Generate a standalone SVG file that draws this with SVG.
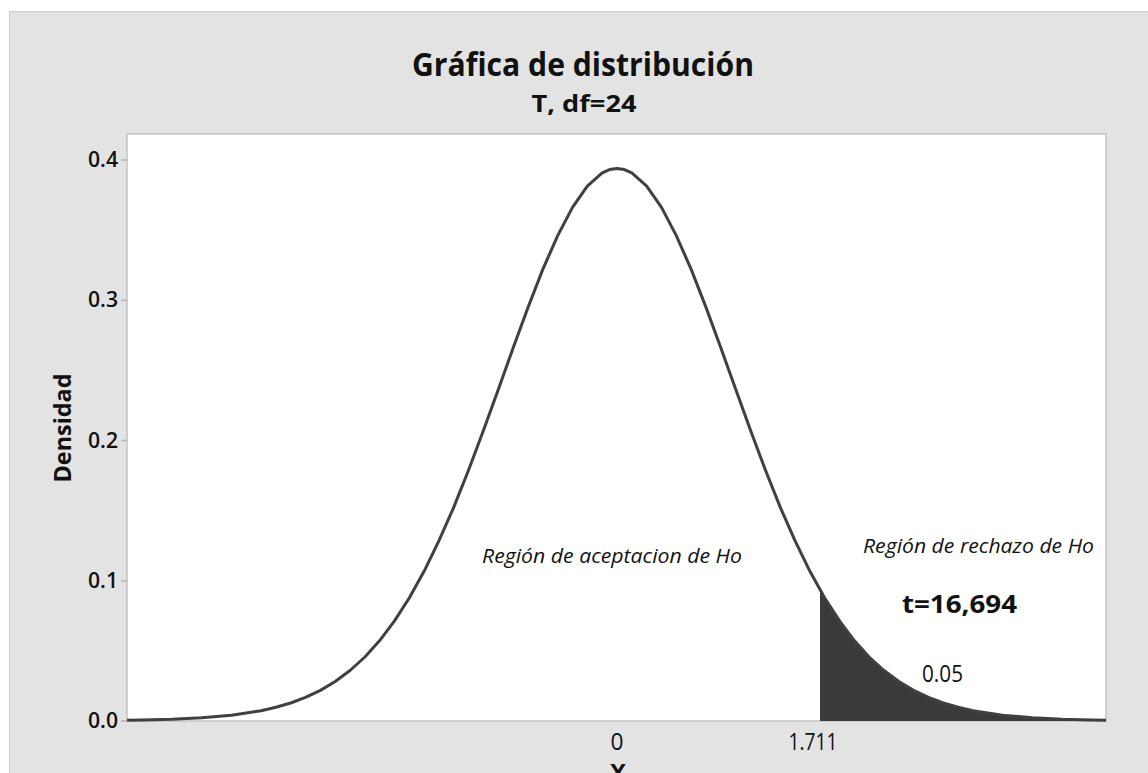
<svg xmlns="http://www.w3.org/2000/svg" width="1148" height="773" viewBox="0 0 1148 773">
<style>
.t{font-family:"Open Sans","Noto Sans","DejaVu Sans",sans-serif;fill:#111}
.tick{stroke:#b5b5b5;stroke-width:1.5}
.yl{font-size:21px;font-weight:600;text-anchor:end}
.xl{font-size:23px;text-anchor:middle}
.it{font-size:20px;font-style:italic}
.curve{fill:none;stroke:#404040;stroke-width:3;stroke-linejoin:round}
</style>
<rect x="0" y="0" width="1148" height="773" fill="#ffffff"/>
<rect id="panel" x="9.5" y="11.5" width="1145" height="770" fill="#e3e3e3" stroke="#cdcdcd" stroke-width="1"/>
<text class="t" x="583" y="76" font-size="32" font-weight="700" text-anchor="middle" textLength="342" lengthAdjust="spacingAndGlyphs">Gráfica de distribución</text>
<text class="t" x="584" y="112" font-size="24" font-weight="700" text-anchor="middle" textLength="105" lengthAdjust="spacingAndGlyphs">T, df=24</text>
<rect id="plot" x="127" y="134" width="979" height="587" fill="#ffffff" stroke="#c2c2c2" stroke-width="1.5"/>
<g id="yaxis">
<line class="tick" x1="121" y1="160" x2="127" y2="160"/>
<line class="tick" x1="121" y1="300.3" x2="127" y2="300.3"/>
<line class="tick" x1="121" y1="440.5" x2="127" y2="440.5"/>
<line class="tick" x1="121" y1="580.8" x2="127" y2="580.8"/>
<line class="tick" x1="121" y1="721" x2="127" y2="721"/>
<text class="t yl" x="118" y="167" textLength="30" lengthAdjust="spacingAndGlyphs">0.4</text>
<text class="t yl" x="118" y="307" textLength="30" lengthAdjust="spacingAndGlyphs">0.3</text>
<text class="t yl" x="118" y="447.5" textLength="30" lengthAdjust="spacingAndGlyphs">0.2</text>
<text class="t yl" x="118" y="588" textLength="30" lengthAdjust="spacingAndGlyphs">0.1</text>
<text class="t yl" x="118" y="728" textLength="30" lengthAdjust="spacingAndGlyphs">0.0</text>
<text class="t" transform="translate(71,428) rotate(-90)" font-size="24" font-weight="700" text-anchor="middle" textLength="109" lengthAdjust="spacingAndGlyphs">Densidad</text>
</g>
<g id="xaxis">
<text class="t xl" x="617" y="750" textLength="13" lengthAdjust="spacingAndGlyphs">0</text>
<text class="t xl" x="813" y="750" textLength="49" lengthAdjust="spacingAndGlyphs">1.711</text>
<text class="t" x="618" y="781" font-size="24" font-weight="700" text-anchor="middle">X</text>
</g>
<g id="tail">
<path fill="#3a3a3a" d="M820,721 L820,589.9 L824.6,597.8 L839.5,620.9 L854.3,640.6 L869.1,657 L884,670.5 L898.8,681.5 L913.6,690.4 L928.5,697.4 L943.3,703 L958.1,707.3 L973,710.7 L1002.6,715.2 L1032.3,717.8 L1061.9,719.3 L1091.6,720.1 L1106,720.3 L1106,721 Z"/>
</g>
<g id="density">
<path class="curve" d="M127,720.3 L142.4,720.1 L172.1,719.3 L201.7,717.8 L231.4,715.2 L261.1,710.7 L275.9,707.3 L290.7,703 L305.5,697.4 L320.4,690.4 L335.2,681.5 L350,670.5 L364.9,657 L379.7,640.6 L394.5,620.9 L409.4,597.8 L424.2,571.1 L439,540.7 L453.9,506.9 L468.7,469.8 L483.5,430.3 L498.4,389.3 L513.2,347.8 L528,307.4 L542.8,269.4 L557.7,235.6 L572.5,207.4 L587.3,186.1 L602.2,172.9 L609.6,169.6 L617,168.4 L624.4,169.6 L631.8,172.9 L646.7,186.1 L661.5,207.4 L676.3,235.6 L691.2,269.4 L706,307.4 L720.8,347.8 L735.7,389.3 L750.5,430.3 L765.3,469.8 L780.1,506.9 L795,540.7 L809.8,571.1 L824.6,597.8 L839.5,620.9 L854.3,640.6 L869.1,657 L884,670.5 L898.8,681.5 L913.6,690.4 L928.5,697.4 L943.3,703 L958.1,707.3 L973,710.7 L1002.6,715.2 L1032.3,717.8 L1061.9,719.3 L1091.6,720.1 L1106,720.3"/>
</g>
<g id="labels">
<text class="t it" x="482" y="563" textLength="260" lengthAdjust="spacingAndGlyphs">Región de aceptacion de Ho</text>
<text class="t it" x="863" y="553" textLength="231" lengthAdjust="spacingAndGlyphs">Región de rechazo de Ho</text>
<text class="t" x="902" y="613" font-size="25" font-weight="700" textLength="115" lengthAdjust="spacingAndGlyphs">t=16,694</text>
<text class="t" x="922" y="682" font-size="24" textLength="41" lengthAdjust="spacingAndGlyphs">0.05</text>
</g>
</svg>
